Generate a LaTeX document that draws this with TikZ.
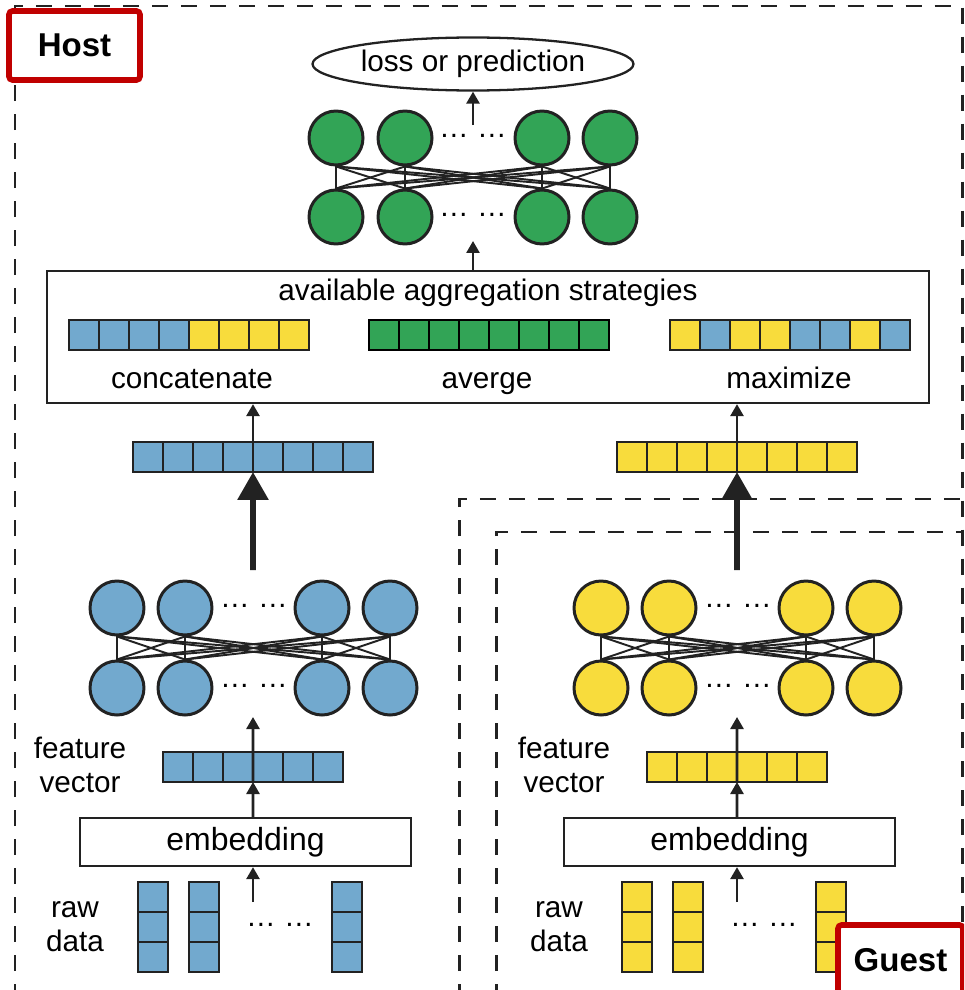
\documentclass[tikz,border=0pt]{standalone}
\usepackage{fontspec}
\setmainfont{Liberation Sans}
\usetikzlibrary{shapes.geometric,arrows.meta}

\definecolor{nblue}{RGB}{114,169,206}
\definecolor{nyellow}{RGB}{248,220,60}
\definecolor{ngreen}{RGB}{50,164,86}
\definecolor{nred}{RGB}{192,0,0}
\definecolor{ngray}{RGB}{34,34,34}

\tikzset{
  neuron/.style={circle, draw=ngray, line width=1.7pt, minimum size=1.08cm, inner sep=0pt},
  cell/.style={rectangle, draw=ngray, line width=1.6pt, minimum width=0.6cm, minimum height=0.6cm, inner sep=0pt, outer sep=0pt},
  link/.style={draw=ngray, line width=1.1pt},
  arr/.style={draw=ngray, line width=1.5pt, -{Triangle[length=0.24cm,width=0.26cm]}},
  bigarr/.style={draw=ngray, line width=3.4pt, -{Triangle[length=0.56cm,width=0.6cm]}},
  txt/.style={font=\fontsize{16.9}{19.3}\selectfont, inner sep=0pt},
  box/.style={rectangle, draw=ngray, line width=1.3pt, inner sep=0pt},
  party/.style={draw=ngray, line width=1.7pt, dash pattern=on 0.32cm off 0.26cm},
  tag/.style={rectangle, draw=nred, fill=white, line width=3.2pt, rounded corners=2pt, font=\fontsize{18.8}{22}\selectfont\bfseries}
}

\begin{document}
\begin{tikzpicture}[x=0.02cm, y=-0.02cm]
\useasboundingbox (0,0) rectangle (964,990);
\clip (0,0) rectangle (964,990);

% party borders
\draw[party] (15,1000) -- (15,6) -- (962,6) -- (962,1000);
\draw[party] (459,1000) -- (459,499) -- (962,499);
\draw[party] (496,1000) -- (496,532) -- (962,532);

% host and guest bottom models
\foreach \dx/\col/\pre in {0/nblue/h,484/nyellow/g} {
  \foreach \x [count=\k] in {153,204,347}
    \foreach \y [count=\r] in {897,927,957}
      \node[cell, fill=\col] (\pre-r\k\r) at (\dx+\x,\y) {};
  \node[txt] (\pre-rdots) at (\dx+280,925) {… …};
  \node[txt, align=center] (\pre-rlab) at (\dx+75,927) {raw\\data};
  \coordinate (\pre-in) at (\dx+253,902);

  \node[box, minimum width=6.62cm, minimum height=0.96cm, font=\fontsize{18.2}{22}\selectfont] (\pre-emb) at (\dx+245.5,842) {embedding};

  \foreach \k in {0,...,5}
    \node[cell, fill=\col] (\pre-f\k) at (\dx+178+30*\k,767) {};
  \node[txt, align=center] (\pre-flab) at (\dx+80,765) {feature\\vector};

  \foreach \x [count=\i] in {117,185,322,390} {
    \node[neuron, fill=\col] (\pre-t\i) at (\dx+\x,608) {};
    \node[neuron, fill=\col] (\pre-b\i) at (\dx+\x,688) {};
  }
  \foreach \i in {1,...,4}
    \foreach \j in {1,...,4}
      \draw[link] (\pre-t\i.south) -- (\pre-b\j.north);
  \node[txt] (\pre-tdots) at (\dx+254,606) {… …};
  \node[txt] (\pre-bdots) at (\dx+254,686) {… …};
  \coordinate (\pre-nin) at (\dx+253,717);
  \coordinate (\pre-out) at (\dx+253,570);

  \foreach \k in {0,...,7}
    \node[cell, fill=\col] (\pre-v\k) at (\dx+148+30*\k,457) {};

  \draw[arr] (\pre-in) -- (\pre-emb.south -| \pre-in);
  \draw[arr] (\pre-emb.north -| \pre-in) -- (\pre-f2.south east);
  \draw[arr] (\pre-f2.south east) -- (\pre-nin);
  \draw[bigarr] (\pre-out) -- (\pre-v3.south east);
}

% aggregation
\node[box, minimum width=17.64cm, minimum height=2.64cm] (agg) at (488,337) {};
\node[txt] (aggtitle) at (488,293) {available aggregation strategies};
\foreach \col [count=\k from 0] in {nblue,nblue,nblue,nblue,nyellow,nyellow,nyellow,nyellow}
  \node[cell, fill=\col] (cat\k) at (84+30*\k,335) {};
\foreach \k in {0,...,7}
  \node[cell, fill=ngreen, draw=black] (avg\k) at (384+30*\k,335) {};
\foreach \col [count=\k from 0] in {nyellow,nblue,nyellow,nyellow,nblue,nblue,nyellow,nblue}
  \node[cell, fill=\col] (max\k) at (685+30*\k,335) {};
\node[txt, anchor=base] (catlab) at (192,388) {concatenate};
\node[txt, anchor=base] (avglab) at (487,388) {averge};
\node[txt, anchor=base] (maxlab) at (789,388) {maximize};

\draw[arr] (h-v3.north east) -- (agg.south -| h-v3.north east);
\draw[arr] (g-v3.north east) -- (agg.south -| g-v3.north east);

% top model
\foreach \x [count=\i] in {336,405,542,610} {
  \node[neuron, fill=ngreen] (t\i) at (\x,138) {};
  \node[neuron, fill=ngreen] (b\i) at (\x,217) {};
}
\foreach \i in {1,...,4}
  \foreach \j in {1,...,4}
    \draw[link] (t\i.south) -- (b\j.north);
\node[txt] (tdots) at (473,136) {… …};
\node[txt] (bdots) at (473,215) {… …};
\coordinate (topin) at (473,241);
\coordinate (topout) at (473,125);
\draw[arr] (agg.north -| topin) -- (topin);

\node[ellipse, draw=ngray, line width=1.3pt, minimum width=6.42cm, minimum height=1.06cm, txt] (loss) at (473,64) {loss or prediction};
\draw[arr] (topout) -- (loss.south);

% labels
\node[tag, minimum width=2.62cm, minimum height=1.38cm] (host) at (74.5,45.5) {Host};
\node[tag, minimum width=2.5cm, minimum height=1.4cm] (guest) at (900.5,960) {Guest};
\end{tikzpicture}
\end{document}
